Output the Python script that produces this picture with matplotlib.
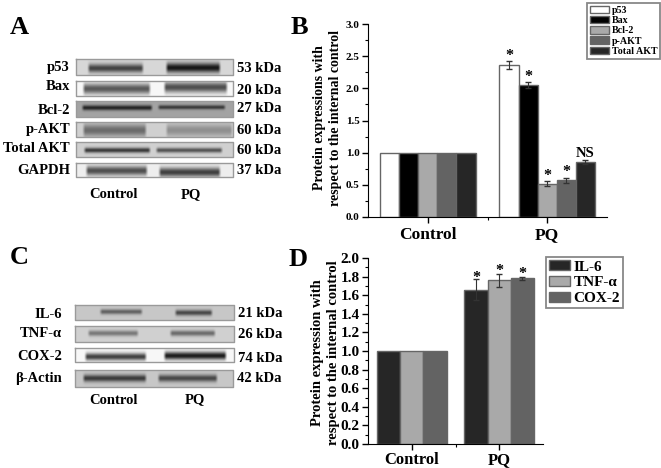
#!/usr/bin/env python3
import matplotlib

matplotlib.use("Agg")
import matplotlib.pyplot as plt
import numpy as np

plt.rcParams["font.family"] = ["Liberation Serif", "DejaVu Serif"]
plt.rcParams["font.weight"] = "bold"

W, H = 661, 468

groups = ["Control", "PQ"]

b_names = ["p53", "Bax", "Bcl-2", "p-AKT", "Total AKT"]
b_control = [1.0, 1.0, 1.0, 1.0, 1.0]
b_pq = [2.36, 2.05, 0.52, 0.57, 0.85]
b_err = [0.06, 0.05, 0.04, 0.04, 0.03]
b_marks = ["*", "*", "*", "*", "NS"]
b_mark_y = [2.50, 2.17, 0.64, 0.70, 0.98]
b_colors = ["#ffffff", "#000000", "#a9a9a9", "#636363", "#262626"]

d_names = ["IL-6", "TNF-α", "COX-2"]
d_control = [1.0, 1.0, 1.0]
d_pq = [1.66, 1.76, 1.78]
d_err = [0.11, 0.07, 0.02]
d_mark_y = [1.78, 1.86, 1.83]
d_colors = ["#262626", "#a9a9a9", "#636363"]

b_ticks = [0.0, 0.5, 1.0, 1.5, 2.0, 2.5, 3.0]
d_ticks = [0.0, 0.2, 0.4, 0.6, 0.8, 1.0, 1.2, 1.4, 1.6, 1.8, 2.0]

# box, background, then bands as x0, x1, y centre, thickness, darkness
blots_a = [
    ("p53", "53 kDa", (76, 59, 233, 75), 0.84, [(87, 144, 68, 3.0, 0.58), (165, 221, 67.5, 3.4, 0.75)]),
    ("Bax", "20 kDa", (76, 81, 233, 96), 0.97, [(82, 151, 88.5, 3.8, 0.62), (163, 228, 87, 3.8, 0.66)]),
    ("Bcl-2", "27 kDa", (76, 101, 233, 117), 0.64, [(81, 153, 107.5, 1.8, 0.50), (157, 226, 107, 1.5, 0.42)]),
    ("p-AKT", "60 kDa", (76, 122, 233, 137), 0.82, [(82, 147, 130, 4.4, 0.40), (165, 233, 130, 4.4, 0.26)]),
    ("Total AKT", "60 kDa", (76, 142, 233, 157), 0.82, [(83, 151, 150, 1.8, 0.60), (155, 223, 150, 1.7, 0.50)]),
    ("GAPDH", "37 kDa", (76, 163, 233, 177), 0.93, [(85, 148, 170.5, 3.3, 0.62), (158, 221, 172, 3.3, 0.68)]),
]
blots_c = [
    ("IL-6", "21 kDa", (75, 305, 234, 320), 0.78, [(99, 143, 311.5, 1.8, 0.40), (174, 213, 312.5, 2.0, 0.50)]),
    ("TNF-α", "26 kDa", (75, 326, 234, 342), 0.82, [(87, 139, 333, 2.0, 0.35), (169, 216, 333, 2.0, 0.40)]),
    ("COX-2", "74 kDa", (75, 348, 234, 362), 0.97, [(84, 147, 356.5, 2.6, 0.72), (163, 227, 355.5, 2.8, 0.86)]),
    ("β-Actin", "42 kDa", (75, 370, 233, 387), 0.78, [(82, 147, 378, 2.5, 0.55), (157, 218, 378, 2.5, 0.50)]),
]
a_label_x, c_label_x = 70, 62
a_label_dy = [0.5, -1.5, 1, 0.5, -1, 1]
c_label_dy = [2, -0.5, 1, 0]
a_kda_dy = [2, 1.5, 0, 1, 1, 0]
c_kda_dy = [1, 1, 3, 0]


def px_axes(fig, x0, y0, x1, y1):
    # axes rectangle given in image pixels, y counted from the top
    return fig.add_axes([x0 / W, 1 - y1 / H, (x1 - x0) / W, (y1 - y0) / H])


def draw_blot(ax, box, bg, bands):
    x0, y0, x1, y1 = box
    xs, ys = np.meshgrid(np.arange(x0, x1, 0.5), np.arange(y0, y1, 0.5))
    img = np.full(xs.shape, bg, dtype=float)
    for bx0, bx1, yc, thick, dark in bands:
        edge = np.clip((xs - bx0) / 3, 0, 1) * np.clip((bx1 - xs) / 3, 0, 1)
        img -= dark * edge * np.exp(-((ys - yc) ** 2) / (2 * thick**2))
    ax.imshow(img, extent=(x0, x1, y1, y0), cmap="gray", vmin=0, vmax=1,
              aspect="auto", interpolation="bilinear")
    ax.plot([x0, x1, x1, x0, x0], [y0, y0, y1, y1, y0], color="#9a9a9a", lw=1.0)


def draw_blots(ax, blots, label_x, label_dy, kda_dy):
    for (name, kda, box, bg, bands), dy, kdy in zip(blots, label_dy, kda_dy):
        draw_blot(ax, box, bg, bands)
        yc = (box[1] + box[3]) / 2
        ax.text(label_x, yc + dy, name, ha="right", va="center", fontsize=10.5)
        ax.text(box[2] + 4, yc + kdy, kda, ha="left", va="center", fontsize=10.5)


def style_axis(ax, ticks, minor, ylim, tick_size, cat_size, cat_pad):
    ax.set_xlim(0.5, 2.5)
    ax.set_ylim(*ylim)
    ax.set_xticks([1, 2])
    ax.set_xticks([1.5], minor=True)
    ax.set_xticklabels(groups, fontsize=cat_size)
    ax.set_yticks(ticks)
    ax.set_yticks(minor, minor=True)
    ax.set_yticklabels([f"{t:.1f}" for t in ticks], fontsize=tick_size)
    ax.spines["top"].set_visible(False)
    ax.spines["right"].set_visible(False)
    ax.tick_params(axis="y", which="major", length=4, width=1.0, pad=2)
    ax.tick_params(axis="x", which="major", length=4, width=1.0, pad=cat_pad)
    ax.tick_params(axis="both", which="minor", length=2, width=0.8)


def main():
    fig = plt.figure(figsize=(W / 100, H / 100), dpi=100)

    bg = fig.add_axes([0, 0, 1, 1])
    draw_blots(bg, blots_a, a_label_x, a_label_dy, a_kda_dy)
    draw_blots(bg, blots_c, c_label_x, c_label_dy, c_kda_dy)
    bg.set_xlim(0, W)
    bg.set_ylim(H, 0)
    bg.axis("off")

    for letter, x, y in [("A", 10, 27), ("B", 291, 27), ("C", 10, 258), ("D", 289, 259)]:
        bg.text(x, y, letter, fontsize=19, ha="left", va="center")
    bg.text(114, 194, "Control", fontsize=10.5, ha="center", va="center")
    bg.text(191, 195, "PQ", fontsize=10.5, ha="center", va="center")
    bg.text(113, 401, "Control", fontsize=10.5, ha="center", va="center")
    bg.text(195, 400, "PQ", fontsize=10.5, ha="center", va="center")

    bg.text(320, 118, "Protein expressions with", rotation=90, fontsize=10, ha="center", va="center")
    bg.text(336, 118, "respect to the internal control", rotation=90, fontsize=10, ha="center", va="center")
    bg.text(317, 353, "Protein expression with", rotation=90, fontsize=10.5, ha="center", va="center")
    bg.text(333, 353, "respect to the internal control", rotation=90, fontsize=10.5, ha="center", va="center")

    # panel B
    ax_b = px_axes(fig, 368, 24, 607, 217)
    ax_b.patch.set_alpha(0)
    width = 0.16
    handles = []
    for i, name in enumerate(b_names):
        off = (i - 2) * width
        bars = ax_b.bar([1 + off, 2 + off], [b_control[i], b_pq[i]], width,
                        color=b_colors[i], edgecolor="#666666", linewidth=1.0, label=name)
        handles.append(bars)
        ax_b.errorbar(2 + off, b_pq[i], yerr=b_err[i], color="#333333", lw=0.8, capsize=2)
        ax_b.text(2 + off, b_mark_y[i], b_marks[i], ha="center", va="center",
                  fontsize=10.5 if b_marks[i] == "NS" else 11.5)
    style_axis(ax_b, b_ticks, np.arange(0, 3.01, 0.25), (0, 3), 8, 12.5, 3.5)
    leg = fig.legend(handles=handles, loc="upper left", bbox_to_anchor=(587 / W, 1 - 3 / H),
                     borderaxespad=0, fontsize=7.2, frameon=True, fancybox=False,
                     edgecolor="#888888", framealpha=1, labelspacing=0.1, handlelength=1.9,
                     handleheight=0.8, handletextpad=0.35, borderpad=0.25)
    leg.get_frame().set_linewidth(1.3)

    # panel D
    ax_d = px_axes(fig, 368, 258, 543, 444)
    ax_d.patch.set_alpha(0)
    width = 0.265
    handles = []
    for i, name in enumerate(d_names):
        off = (i - 1) * width
        bars = ax_d.bar([1 + off, 2 + off], [d_control[i], d_pq[i]], width,
                        color=d_colors[i], edgecolor="#666666", linewidth=1.0, label=name)
        handles.append(bars)
        ax_d.errorbar(2 + off, d_pq[i], yerr=d_err[i], color="#333333", lw=0.8, capsize=2)
        ax_d.text(2 + off, d_mark_y[i], "*", ha="center", va="center", fontsize=11.5)
    style_axis(ax_d, d_ticks, np.arange(0, 2.01, 0.1), (0, 2), 11, 12, 1.5)
    leg = fig.legend(handles=handles, loc="upper left", bbox_to_anchor=(546 / W, 1 - 257 / H),
                     borderaxespad=0, fontsize=11, frameon=True, fancybox=False,
                     edgecolor="#888888", framealpha=1, labelspacing=0.15, handlelength=1.4,
                     handleheight=0.65, handletextpad=0.2, borderpad=0.2)
    leg.get_frame().set_linewidth(1.3)

    fig.savefig("out.png", dpi=100)
    plt.close(fig)


if __name__ == "__main__":
    main()
